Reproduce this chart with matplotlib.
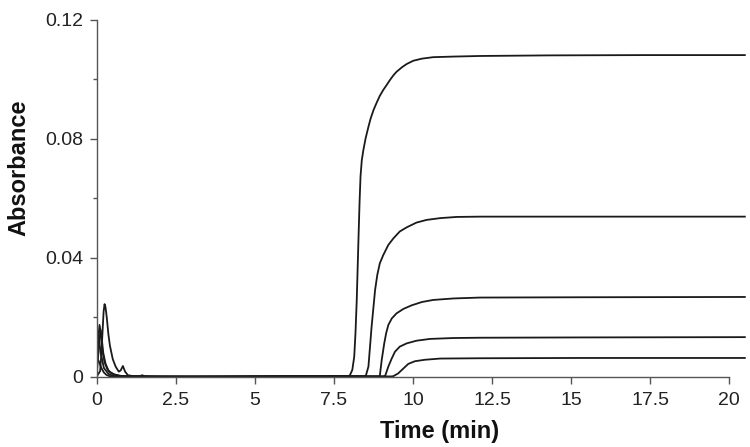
import numpy as np
import matplotlib
matplotlib.use("Agg")
import matplotlib.pyplot as plt
from matplotlib.ticker import MultipleLocator, FuncFormatter

plt.rcParams['font.family'] = ['Liberation Sans', 'DejaVu Sans']

# absorbance traces (time in min)
t1 = [0, 0.10, 0.14, 0.18, 0.21, 0.24, 0.27, 0.31, 0.36, 0.41, 0.50, 0.59, 0.69, 0.75, 0.82,
      0.89, 0.98, 1.14, 2.05, 4.09, 6.13, 7.66, 7.94, 8.00, 8.08, 8.14, 8.18, 8.22, 8.25, 8.28,
      8.31, 8.34, 8.38, 8.43, 8.50, 8.59, 8.66, 8.75, 8.85, 8.95, 9.06, 9.17, 9.27, 9.38, 9.48,
      9.65, 9.80, 10.01, 10.28, 10.64, 11.28, 12.12, 14.28, 17.34, 20.5]
a1 = [0.0003, 0.002, 0.008, 0.016, 0.022, 0.0245, 0.0235, 0.020, 0.0145, 0.0105, 0.006, 0.0035,
      0.0018, 0.0022, 0.0037, 0.0018, 0.0006, 0.0003, 0.0002, 0.0002, 0.0003, 0.0003, 0.0003,
      0.0005, 0.0024, 0.0068, 0.0147, 0.0259, 0.0371, 0.0483, 0.059, 0.0675, 0.0729, 0.0763,
      0.0802, 0.0841, 0.0869, 0.0897, 0.0922, 0.0945, 0.0965, 0.0982, 0.0998, 0.1014, 0.1026,
      0.1041, 0.1052, 0.1063, 0.1070, 0.1075, 0.1077, 0.1079, 0.1081, 0.1082, 0.1082]

t2 = [0, 0.05, 0.08, 0.12, 0.17, 0.24, 0.32, 0.42, 0.58, 0.73, 0.93, 1.24, 3.07, 6.13, 8.45,
      8.51, 8.59, 8.64, 8.69, 8.75, 8.80, 8.87, 8.95, 9.06, 9.22, 9.38, 9.58, 9.80, 10.11, 10.43,
      10.86, 11.38, 12.12, 15.30, 20.5]
a2 = [0.004, 0.014, 0.0175, 0.015, 0.009, 0.005, 0.0028, 0.0015, 0.0007, 0.0004, 0.0002, 0.0001,
      0.0001, 0.0002, 0.0003, 0.0005, 0.0035, 0.0102, 0.0169, 0.0236, 0.0292, 0.0343, 0.0382,
      0.0410, 0.0444, 0.0466, 0.0489, 0.0503, 0.0519, 0.0528, 0.0534, 0.0538, 0.0539, 0.0539,
      0.0539]

t3 = [0, 0.06, 0.11, 0.15, 0.20, 0.27, 0.37, 0.53, 0.73, 1.03, 1.34, 1.43, 1.52, 1.75, 4.09,
      7.15, 8.90, 8.95, 9.01, 9.09, 9.15, 9.22, 9.33, 9.48, 9.70, 9.96, 10.28, 10.64, 11.28,
      12.12, 15.30, 20.5]
a3 = [0.002, 0.010, 0.016, 0.013, 0.008, 0.0045, 0.002, 0.0009, 0.0004, 0.0002, 0.0002, 0.0006,
      0.0002, 0.0001, 0.0001, 0.0002, 0.0002, 0.0004, 0.0057, 0.0113, 0.0147, 0.0175, 0.0197,
      0.0214, 0.0229, 0.0241, 0.0252, 0.0259, 0.0264, 0.0267, 0.0268, 0.0269]

t4 = [0, 0.07, 0.14, 0.22, 0.30, 0.39, 0.53, 0.73, 3.07, 6.13, 9.06, 9.12, 9.22, 9.33, 9.43,
      9.58, 9.80, 10.11, 10.54, 11.28, 12.12, 15.30, 20.5]
a4 = [0.0065, 0.005, 0.003, 0.0015, 0.0007, 0.0003, 0.0001, 0.0, 0.0001, 0.0002, 0.0002, 0.0004,
      0.0035, 0.0063, 0.0085, 0.0102, 0.0113, 0.0122, 0.0128, 0.0131, 0.0132, 0.0133, 0.0134]

t5 = [0, 0.07, 0.12, 0.22, 0.37, 0.53, 3.07, 6.13, 9.33, 9.38, 9.53, 9.70, 9.85, 10.06, 10.38,
      10.86, 12.12, 15.30, 20.5]
a5 = [0.009, 0.012, 0.008, 0.003, 0.001, 0.0003, 0.0001, 0.0002, 0.0002, 0.0003, 0.0012, 0.0029,
      0.0044, 0.0053, 0.0058, 0.0062, 0.0063, 0.0064, 0.0064]

series = [(t1, a1), (t2, a2), (t3, a3), (t4, a4), (t5, a5)]

fig = plt.figure(figsize=(7.5, 4.47), dpi=100)
ax = fig.add_axes([0.1293, 0.1566, 0.8659, 0.7987])

for t, a in series:
    ax.plot(t, a, color='#1a1a1a', lw=1.3, solid_joinstyle='round')

ax.set_xlim(0, 20.55)
ax.set_ylim(0, 0.12)
ax.xaxis.set_major_locator(MultipleLocator(2.5))
ax.yaxis.set_major_locator(MultipleLocator(0.04))
ax.yaxis.set_minor_locator(MultipleLocator(0.02))
fmt = FuncFormatter(lambda v, p: '%g' % round(v, 4))
ax.xaxis.set_major_formatter(fmt)
ax.yaxis.set_major_formatter(fmt)

for s in ['top', 'right']:
    ax.spines[s].set_visible(False)
for s in ['left', 'bottom']:
    ax.spines[s].set_color('#555555')
    ax.spines[s].set_linewidth(1.0)
ax.spines['bottom'].set_bounds(0, 20)
ax.tick_params(which='major', direction='out', length=5, width=1, color='#555555',
               labelsize=14, labelcolor='#222222', pad=5)
ax.tick_params(axis='x', which='major', pad=6)
ax.tick_params(which='minor', direction='out', length=3, width=1, color='#555555')

# axis titles sit off-centre in the original
fig.text(440 / 750, 1 - 438 / 447, 'Time (min)', fontsize=17, fontweight='bold',
         ha='center', va='baseline', color='#111111')
fig.text(19 / 750, 1 - 168 / 447, 'Absorbance', fontsize=17, fontweight='bold',
         ha='center', va='center', rotation=90, color='#111111')

fig.savefig('out.png', dpi=100)
